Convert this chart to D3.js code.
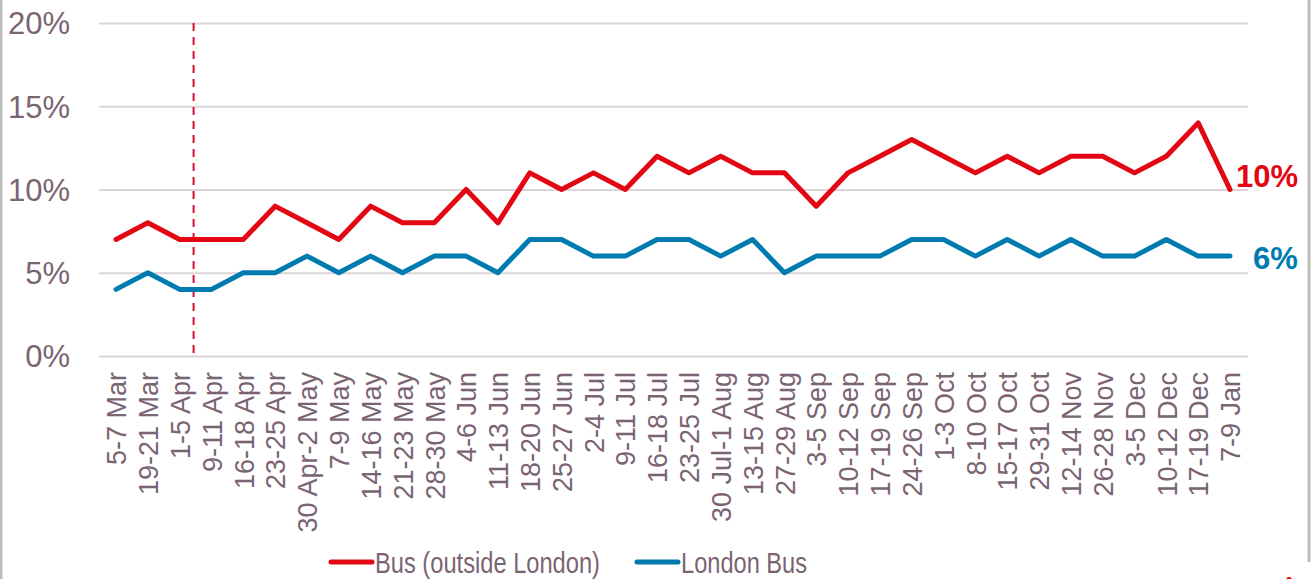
<!DOCTYPE html>
<html>
<head>
<meta charset="utf-8">
<script src="https://cdn.jsdelivr.net/npm/d3@7"></script>
<style>
  body { margin: 0; background: #fff; }
  svg { display: block; font-family: "Liberation Sans", Arial, sans-serif; }
</style>
</head>
<body>
<div id="vis"></div>
<script>
// chart data
var categories = ["5-7 Mar", "19-21 Mar", "1-5 Apr", "9-11 Apr", "16-18 Apr", "23-25 Apr",
  "30 Apr-2 May", "7-9 May", "14-16 May", "21-23 May", "28-30 May", "4-6 Jun",
  "11-13 Jun", "18-20 Jun", "25-27 Jun", "2-4 Jul", "9-11 Jul", "16-18 Jul",
  "23-25 Jul", "30 Jul-1 Aug", "13-15 Aug", "27-29 Aug", "3-5 Sep", "10-12 Sep",
  "17-19 Sep", "24-26 Sep", "1-3 Oct", "8-10 Oct", "15-17 Oct", "29-31 Oct",
  "12-14 Nov", "26-28 Nov", "3-5 Dec", "10-12 Dec", "17-19 Dec", "7-9 Jan"];

var busOutsideLondon = [7, 8, 7, 7, 7, 9, 8, 7, 9, 8, 8, 10, 8, 11, 10, 11, 10, 12,
  11, 12, 11, 11, 9, 11, 12, 13, 12, 11, 12, 11, 12, 12, 11, 12, 14, 10];

var londonBus = [4, 5, 4, 4, 5, 5, 6, 5, 6, 5, 6, 6, 5, 7, 7, 6, 6, 7,
  7, 6, 7, 5, 6, 6, 6, 7, 7, 6, 7, 6, 7, 6, 6, 7, 6, 6];

var yTicks = [0, 5, 10, 15, 20];
var seriesNames = ["Bus (outside London)", "London Bus"];
var markerBetween = ["1-5 Apr", "9-11 Apr"];

// sizes
var width = 1313;
var height = 579;
var textColor = "#7b6472";
var red = "#e30613";
var blue = "#007bb0";

var svg = d3.select("#vis")
    .append("svg")
    .attr("width", width)
    .attr("height", height);

// frame lines on left and right
svg.append("line")
    .attr("x1", 1).attr("x2", 1).attr("y1", 0).attr("y2", height)
    .attr("stroke", "#bdbdbd").attr("stroke-width", 3);
svg.append("line")
    .attr("x1", 1309).attr("x2", 1309).attr("y1", 0).attr("y2", 562)
    .attr("stroke", "#bdbdbd").attr("stroke-width", 3);

// scales
var xscale = d3.scalePoint()
    .domain(categories)
    .range([116, 1230]);

var yscale = d3.scaleLinear()
    .domain([0, 20])
    .range([356, 23]);

// y axis with gridlines
var yaxis = d3.axisLeft(yscale)
    .tickValues(yTicks)
    .tickSize(-(1248 - 99))
    .tickPadding(29)
    .tickFormat(function(d) { return d + "%"; });

var gy = svg.append("g")
    .attr("transform", "translate(99,0)")
    .call(yaxis);
gy.select(".domain").remove();
gy.selectAll("line")
    .attr("stroke", "#ddd3d8")
    .attr("stroke-width", 2);
gy.selectAll("text")
    .attr("fill", textColor)
    .style("font-size", "31px")
    .attr("dy", "0.35em");

// x axis labels rotated
var xaxis = d3.axisBottom(xscale).tickSize(0);
var gx = svg.append("g")
    .attr("transform", "translate(0,356)")
    .call(xaxis);
gx.select(".domain").remove();
gx.selectAll("text")
    .attr("fill", textColor)
    .style("font-size", "27px")
    .attr("text-anchor", "end")
    .attr("transform", "rotate(-90)")
    .attr("x", -16)
    .attr("y", 0)
    .attr("dy", "0.36em");

// dashed marker line
var markerX = (xscale(markerBetween[0]) + xscale(markerBetween[1])) / 2 - 2;
svg.append("line")
    .attr("x1", markerX).attr("x2", markerX)
    .attr("y1", yscale(20)).attr("y2", yscale(0))
    .attr("stroke", "#d0102c")
    .attr("stroke-width", 2)
    .attr("stroke-dasharray", "8,6");

// lines
var line = d3.line()
    .x(function(d, i) { return xscale(categories[i]); })
    .y(function(d) { return yscale(d); });

svg.append("path")
    .datum(londonBus)
    .attr("fill", "none")
    .attr("stroke", blue)
    .attr("stroke-width", 5)
    .attr("stroke-linejoin", "round")
    .attr("stroke-linecap", "round")
    .attr("d", line);

svg.append("path")
    .datum(busOutsideLondon)
    .attr("fill", "none")
    .attr("stroke", red)
    .attr("stroke-width", 5)
    .attr("stroke-linejoin", "round")
    .attr("stroke-linecap", "round")
    .attr("d", line);

// end labels
var last = categories.length - 1;
svg.append("text")
    .attr("x", xscale(categories[last]) + 6)
    .attr("y", yscale(busOutsideLondon[last]) - 13)
    .attr("dy", "0.35em")
    .attr("fill", red)
    .style("font-size", "31px")
    .style("font-weight", "bold")
    .text(busOutsideLondon[last] + "%");

svg.append("text")
    .attr("x", xscale(categories[last]) + 23)
    .attr("y", yscale(londonBus[last]) + 2)
    .attr("dy", "0.35em")
    .attr("fill", blue)
    .style("font-size", "31px")
    .style("font-weight", "bold")
    .text(londonBus[last] + "%");

// legend
var legendItems = [
    { name: seriesNames[0], color: red, x: 331, len: 225 },
    { name: seriesNames[1], color: blue, x: 637, len: 126 }
];
var legend = svg.selectAll(".legend")
    .data(legendItems)
    .enter()
    .append("g")
    .attr("class", "legend")
    .attr("transform", function(d) { return "translate(" + d.x + ",562)"; });

legend.append("line")
    .attr("x1", 0).attr("x2", 41)
    .attr("stroke", function(d) { return d.color; })
    .attr("stroke-width", 5)
    .attr("stroke-linecap", "round");

legend.append("text")
    .attr("x", 44)
    .attr("dy", "0.36em")
    .attr("fill", textColor)
    .style("font-size", "30px")
    .attr("textLength", function(d) { return d.len; })
    .attr("lengthAdjust", "spacingAndGlyphs")
    .text(function(d) { return d.name; });

// small stray mark at bottom right
svg.append("circle")
    .attr("cx", 1289).attr("cy", 580).attr("r", 3)
    .attr("fill", red);
</script>
</body>
</html>
